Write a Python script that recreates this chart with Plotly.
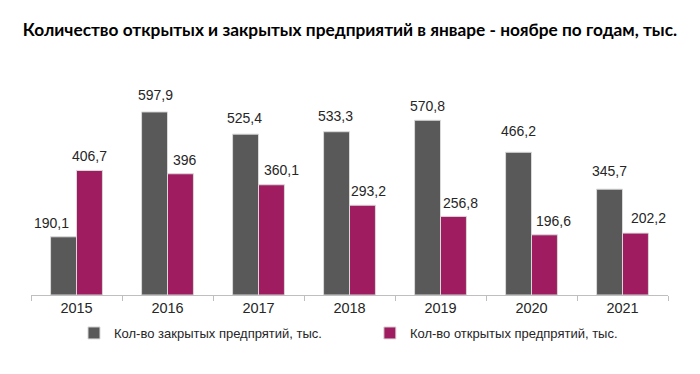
import plotly.graph_objects as go

years = [2015, 2016, 2017, 2018, 2019, 2020, 2021]
closed = [190.1, 597.9, 525.4, 533.3, 570.8, 466.2, 345.7]
opened = [406.7, 396, 360.1, 293.2, 256.8, 196.6, 202.2]
closed_labels = ["190,1", "597,9", "525,4", "533,3", "570,8", "466,2", "345,7"]
opened_labels = ["406,7", "396", "360,1", "293,2", "256,8", "196,6", "202,2"]
title = "Количество открытых и закрытых предприятий в январе - ноябре по годам, тыс."
name_closed = "Кол-во закрытых предпрятий, тыс."
name_opened = "Кол-во открытых предпрятий, тыс."

# label nudges (px) as placed in the original chart: horizontal, vertical gap above bar
closed_dx = [-12, 1, -1, -1, 0, 0, 0]
closed_gap = [14, 17, 16, 16, 14, 21, 18]
opened_dx = [0, 5, 10, 6, 7, 9, 13]
opened_gap = [14, 14, 15, 14, 13, 14, 15]

lab_font = dict(family="Liberation Sans, Arial", size=14, color="#262626")

fig = go.Figure()
fig.add_trace(go.Bar(x=years, y=closed, name=name_closed,
                     marker=dict(color="#595959", line=dict(color="#d9d9d9", width=1)),
                     legend="legend", showlegend=True))
fig.add_trace(go.Bar(x=years, y=opened, name=name_opened,
                     marker=dict(color="#9E1C5F", line=dict(color="#d9d9d9", width=1)),
                     legend="legend2", showlegend=True))

# plot geometry (for placing value labels over their bars)
W, H = 700, 374
ML, MR, MT, MB = 23, 40, 88, 87
bargap = 0.43
cat_px = (W - ML - MR) / len(years)
bar_px = cat_px * (1 - bargap) / 2

annotations = []
for yr, v, t, dx, g in zip(years, closed, closed_labels, closed_dx, closed_gap):
    annotations.append(dict(x=yr, y=v, text=t, showarrow=False, xanchor="center", yanchor="middle",
                            xshift=-bar_px / 2 + dx, yshift=g, font=lab_font))
for yr, v, t, dx, g in zip(years, opened, opened_labels, opened_dx, opened_gap):
    annotations.append(dict(x=yr, y=v, text=t, showarrow=False, xanchor="center", yanchor="middle",
                            xshift=bar_px / 2 + dx, yshift=g, font=lab_font))

leg_font = dict(family="Liberation Sans, Arial", size=13, color="#262626")
fig.update_layout(
    width=W, height=H,
    margin=dict(l=ML, r=MR, t=MT, b=MB, autoexpand=False),
    paper_bgcolor="white", plot_bgcolor="white",
    showlegend=True,
    barmode="group", bargap=bargap, bargroupgap=0,
    annotations=annotations,
    title=dict(text=title, x=342 / 700, xanchor="center", y=1 - 22 / 374, yanchor="middle",
               font=dict(family="Lato", size=17.3, color="#000000", weight="bold")),
    legend=dict(x=0.0675, xanchor="left", y=-0.191, yanchor="middle", font=leg_font,
                bgcolor="rgba(0,0,0,0)", itemwidth=30),
    legend2=dict(x=0.532, xanchor="left", y=-0.191, yanchor="middle", font=leg_font,
                 bgcolor="rgba(0,0,0,0)", itemwidth=30),
    xaxis=dict(range=[2014.5, 2021.5], tickvals=years, ticktext=[str(y) for y in years],
               ticks="", showline=True, linecolor="#bfbfbf", linewidth=1, showgrid=False,
               tickfont=dict(family="Liberation Sans, Arial", size=14.5, color="#262626"),
               automargin=False,
               minor=dict(tick0=2014.5, dtick=1, ticks="outside", ticklen=5, tickcolor="#bfbfbf", showgrid=False),
               zeroline=False),
    yaxis=dict(range=[0, 650], visible=False, showgrid=False, zeroline=False, automargin=False),
)
fig.write_html("out.html")
